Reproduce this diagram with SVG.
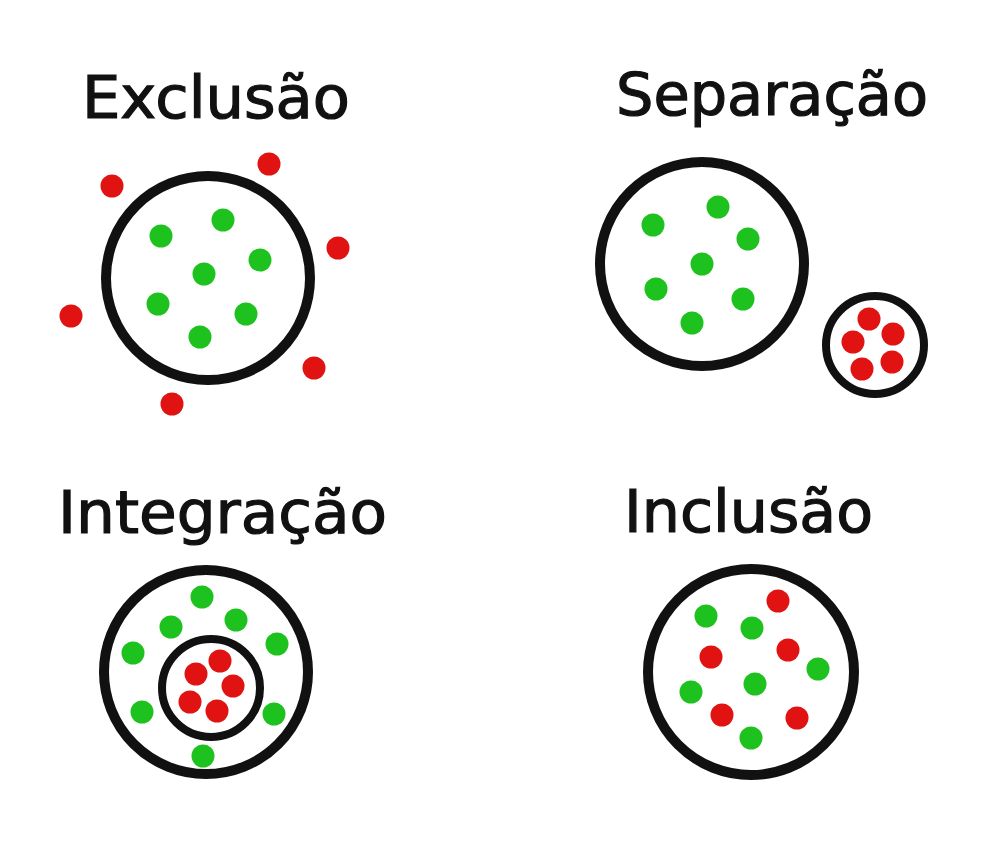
<svg xmlns="http://www.w3.org/2000/svg" width="1000" height="852" viewBox="0 0 1000 852">
<style>
.ring{fill:none;stroke:#111;stroke-width:10}
.ring2{fill:none;stroke:#111;stroke-width:8}
.g{fill:#1ec21e}
.r{fill:#e01212}
.t{font-family:"DejaVu Sans","Liberation Sans",sans-serif;font-size:58px;fill:#111;stroke:#111;stroke-width:1.2}
</style>
<rect width="1000" height="852" fill="#fff"/>
<g id="exclusao">
<text class="t" x="82" y="118" textLength="268" lengthAdjust="spacingAndGlyphs">Exclusão</text>
<circle class="ring" cx="208" cy="278" r="102"/>
<circle class="g" cx="161" cy="236" r="11.5"/>
<circle class="g" cx="223" cy="220" r="11.5"/>
<circle class="g" cx="260" cy="260" r="11.5"/>
<circle class="g" cx="204" cy="274" r="11.5"/>
<circle class="g" cx="158" cy="304" r="11.5"/>
<circle class="g" cx="246" cy="314" r="11.5"/>
<circle class="g" cx="200" cy="337" r="11.5"/>
<circle class="r" cx="112" cy="186" r="11.5"/>
<circle class="r" cx="269" cy="164" r="11.5"/>
<circle class="r" cx="338" cy="248" r="11.5"/>
<circle class="r" cx="71" cy="316" r="11.5"/>
<circle class="r" cx="314" cy="368" r="11.5"/>
<circle class="r" cx="172" cy="404" r="11.5"/>
</g>
<g id="separacao">
<text class="t" x="616" y="115" textLength="312" lengthAdjust="spacingAndGlyphs">Separação</text>
<circle class="ring" cx="702" cy="264" r="102"/>
<circle class="ring2" cx="875" cy="345" r="49"/>
<circle class="g" cx="718" cy="207" r="11.5"/>
<circle class="g" cx="653" cy="225" r="11.5"/>
<circle class="g" cx="748" cy="239" r="11.5"/>
<circle class="g" cx="702" cy="264" r="11.5"/>
<circle class="g" cx="656" cy="289" r="11.5"/>
<circle class="g" cx="743" cy="299" r="11.5"/>
<circle class="g" cx="692" cy="323" r="11.5"/>
<circle class="r" cx="869" cy="319" r="11.5"/>
<circle class="r" cx="893" cy="334" r="11.5"/>
<circle class="r" cx="853" cy="342" r="11.5"/>
<circle class="r" cx="892" cy="362" r="11.5"/>
<circle class="r" cx="862" cy="369" r="11.5"/>
</g>
<g id="integracao">
<text class="t" x="58" y="533" textLength="329" lengthAdjust="spacingAndGlyphs">Integração</text>
<circle class="ring" cx="206" cy="672" r="102"/>
<circle class="ring2" cx="211" cy="688" r="49"/>
<circle class="g" cx="202" cy="597" r="11.5"/>
<circle class="g" cx="171" cy="627" r="11.5"/>
<circle class="g" cx="236" cy="620" r="11.5"/>
<circle class="g" cx="133" cy="653" r="11.5"/>
<circle class="g" cx="277" cy="644" r="11.5"/>
<circle class="g" cx="142" cy="712" r="11.5"/>
<circle class="g" cx="274" cy="714" r="11.5"/>
<circle class="g" cx="203" cy="756" r="11.5"/>
<circle class="r" cx="220" cy="661" r="11.5"/>
<circle class="r" cx="196" cy="674" r="11.5"/>
<circle class="r" cx="233" cy="686" r="11.5"/>
<circle class="r" cx="190" cy="702" r="11.5"/>
<circle class="r" cx="217" cy="711" r="11.5"/>
</g>
<g id="inclusao">
<text class="t" x="624" y="532" textLength="249" lengthAdjust="spacingAndGlyphs">Inclusão</text>
<circle class="ring" cx="751" cy="672" r="103"/>
<circle class="g" cx="706" cy="616" r="11.5"/>
<circle class="g" cx="752" cy="628" r="11.5"/>
<circle class="g" cx="818" cy="669" r="11.5"/>
<circle class="g" cx="755" cy="684" r="11.5"/>
<circle class="g" cx="691" cy="692" r="11.5"/>
<circle class="g" cx="751" cy="738" r="11.5"/>
<circle class="r" cx="778" cy="601" r="11.5"/>
<circle class="r" cx="711" cy="657" r="11.5"/>
<circle class="r" cx="788" cy="650" r="11.5"/>
<circle class="r" cx="722" cy="715" r="11.5"/>
<circle class="r" cx="797" cy="718" r="11.5"/>
</g>
<g id="connectors"/>
</svg>
